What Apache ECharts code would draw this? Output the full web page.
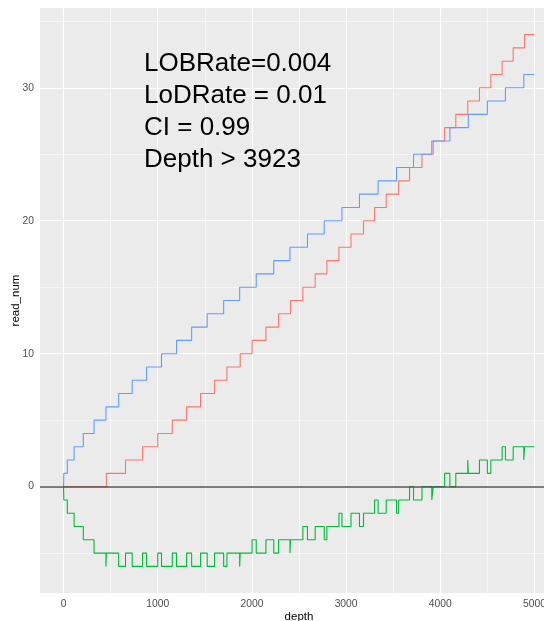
<!DOCTYPE html>
<html>
<head>
<meta charset="utf-8">
<script src="https://cdn.jsdelivr.net/npm/echarts@6/dist/echarts.min.js"></script>
<style>
  html, body { margin: 0; padding: 0; background: #fff; }
  #chart { width: 544px; height: 621px; }
</style>
</head>
<body>
<div id="chart"></div>
<script>
const depthEnd = 5000

// depth at which each line steps up by one (1, 2, 3, ...)
const blueSteps = [3, 40, 112, 210, 324, 450, 585, 729, 881, 1040, 1200, 1360, 1525, 1700, 1870,
  2046, 2232, 2404, 2590, 2768, 2956, 3142, 3340, 3536, 3716, 3910, 4102, 4298, 4500, 4692, 4887]
const redSteps = [455, 658, 839, 1000, 1155, 1306, 1455, 1603, 1735, 1876, 2002, 2149, 2283, 2410,
  2541, 2672, 2796, 2924, 3052, 3185, 3302, 3426, 3558, 3674, 3806, 3925, 4046, 4165, 4292, 4416,
  4537, 4657, 4774, 4895]

// green line: depth where it changes, and its new value
const greenDepth = [0, 3, 40, 112, 210, 324, 450, 455, 585, 658, 729, 839, 881, 1000, 1040, 1155,
  1200, 1306, 1360, 1455, 1525, 1603, 1700, 1735, 1870, 1876, 2002, 2046, 2149, 2232, 2283, 2404,
  2410, 2541, 2590, 2672, 2768, 2796, 2924, 2956, 3052, 3142, 3185, 3302, 3340, 3426, 3536, 3558,
  3674, 3716, 3806, 3910, 3925, 4046, 4102, 4165, 4292, 4298, 4416, 4500, 4537, 4657, 4692, 4774,
  4887, 4895, 5000]
const greenValue = [0, -1, -2, -3, -4, -5, -6, -5, -6, -5, -6, -5, -6, -5, -6, -5,
  -6, -5, -6, -5, -6, -5, -6, -5, -6, -5, -4, -5, -4, -5, -4, -5,
  -4, -3, -4, -3, -4, -3, -2, -3, -2, -3, -2, -1, -2, -1, -2, -1,
  0, -1, 0, -1, 0, 1, 0, 1, 2, 1, 2, 1, 2, 3, 2, 3,
  2, 3, 3]

const xTicks = [0, 1000, 2000, 3000, 4000, 5000]
const xMinor = [500, 1500, 2500, 3500, 4500]
const yTicks = [0, 10, 20, 30]
const yMinor = [-5, 5, 15, 25, 35]
const noteLines = ['LOBRate=0.004', 'LoDRate = 0.01', 'CI = 0.99', 'Depth > 3923']

const FONT = '"Liberation Sans", Arial, sans-serif'

const stepData = (steps) => {
    const d = [[0, 0]]
    steps.forEach((x, i) => d.push([x, i + 1]))
    d.push([depthEnd, steps.length])
    return d
}

const lineSeries = (name, data, color) => ({
    name,
    type: 'line',
    step: 'end',
    data,
    showSymbol: false,
    z: 3,
    lineStyle: { color, width: 1.1 },
    emphasis: { disabled: true },
})

const gridLines = [
    ...xMinor.map(v => ({ xAxis: v, lineStyle: { width: 0.55 } })),
    ...yMinor.map(v => ({ yAxis: v, lineStyle: { width: 0.55 } })),
    ...xTicks.map(v => ({ xAxis: v, lineStyle: { width: 1.1 } })),
    ...yTicks.map(v => ({ yAxis: v, lineStyle: { width: 1.1 } })),
]

const chart = echarts.init(document.getElementById('chart'))
chart.setOption({
    animation: false,
    textStyle: { fontFamily: FONT },
    grid: {
        left: 40, top: 8, width: 518, height: 585,
        outerBoundsMode: 'none', containLabel: false,
        show: true, backgroundColor: '#EBEBEB', borderWidth: 0,
    },
    xAxis: {
        type: 'value', min: -250, max: 5250,
        name: 'depth', nameLocation: 'middle', nameGap: 18, nameMoveOverlap: false,
        nameTextStyle: { color: '#000', fontSize: 11.5, fontFamily: FONT, verticalAlign: 'top' },
        axisLine: { show: false },
        splitLine: { show: false },
        axisTick: { show: true, customValues: xTicks, length: 3, lineStyle: { color: '#333', width: 1 } },
        axisLabel: {
            customValues: xTicks, formatter: v => String(v),
            color: '#4D4D4D', fontSize: 10.3, margin: 6.5, fontFamily: FONT,
        },
    },
    yAxis: {
        type: 'value', min: -8, max: 36,
        name: 'read_num', nameLocation: 'middle', nameGap: 24.5, nameRotate: 90, nameMoveOverlap: false,
        nameTextStyle: { color: '#000', fontSize: 11.5, fontFamily: FONT, verticalAlign: 'middle' },
        axisLine: { show: false },
        splitLine: { show: false },
        axisTick: { show: true, customValues: yTicks, length: 3, lineStyle: { color: '#333', width: 1 } },
        axisLabel: {
            customValues: yTicks, formatter: v => String(v),
            color: '#4D4D4D', fontSize: 10.3, margin: 6, fontFamily: FONT,
        },
    },
    graphic: [{
        type: 'text', left: 144, top: 48, z: 10,
        style: {
            text: noteLines.join('\n'),
            font: '26px ' + FONT,
            lineHeight: 32,
            fill: '#000',
        },
    }],
    series: [
        {
            type: 'line', data: [], z: 1, silent: true,
            markLine: {
                z: 1, silent: true, symbol: ['none', 'none'], animation: false,
                label: { show: false }, emphasis: { disabled: true },
                lineStyle: { color: '#fff', type: 'solid' },
                data: gridLines,
            },
        },
        lineSeries('red', stepData(redSteps), '#F8766D'),
        lineSeries('green', greenDepth.map((d, i) => [d, greenValue[i]]), '#00BA38'),
        lineSeries('blue', stepData(blueSteps), '#619CFF'),
        {
            type: 'line', data: [], z: 6, silent: true,
            markLine: {
                z: 6, silent: true, symbol: ['none', 'none'], animation: false,
                label: { show: false }, emphasis: { disabled: true },
                lineStyle: { color: '#555', type: 'solid', width: 1.7 },
                data: [{ yAxis: 0 }],
            },
        },
    ],
})
</script>
</body>
</html>
